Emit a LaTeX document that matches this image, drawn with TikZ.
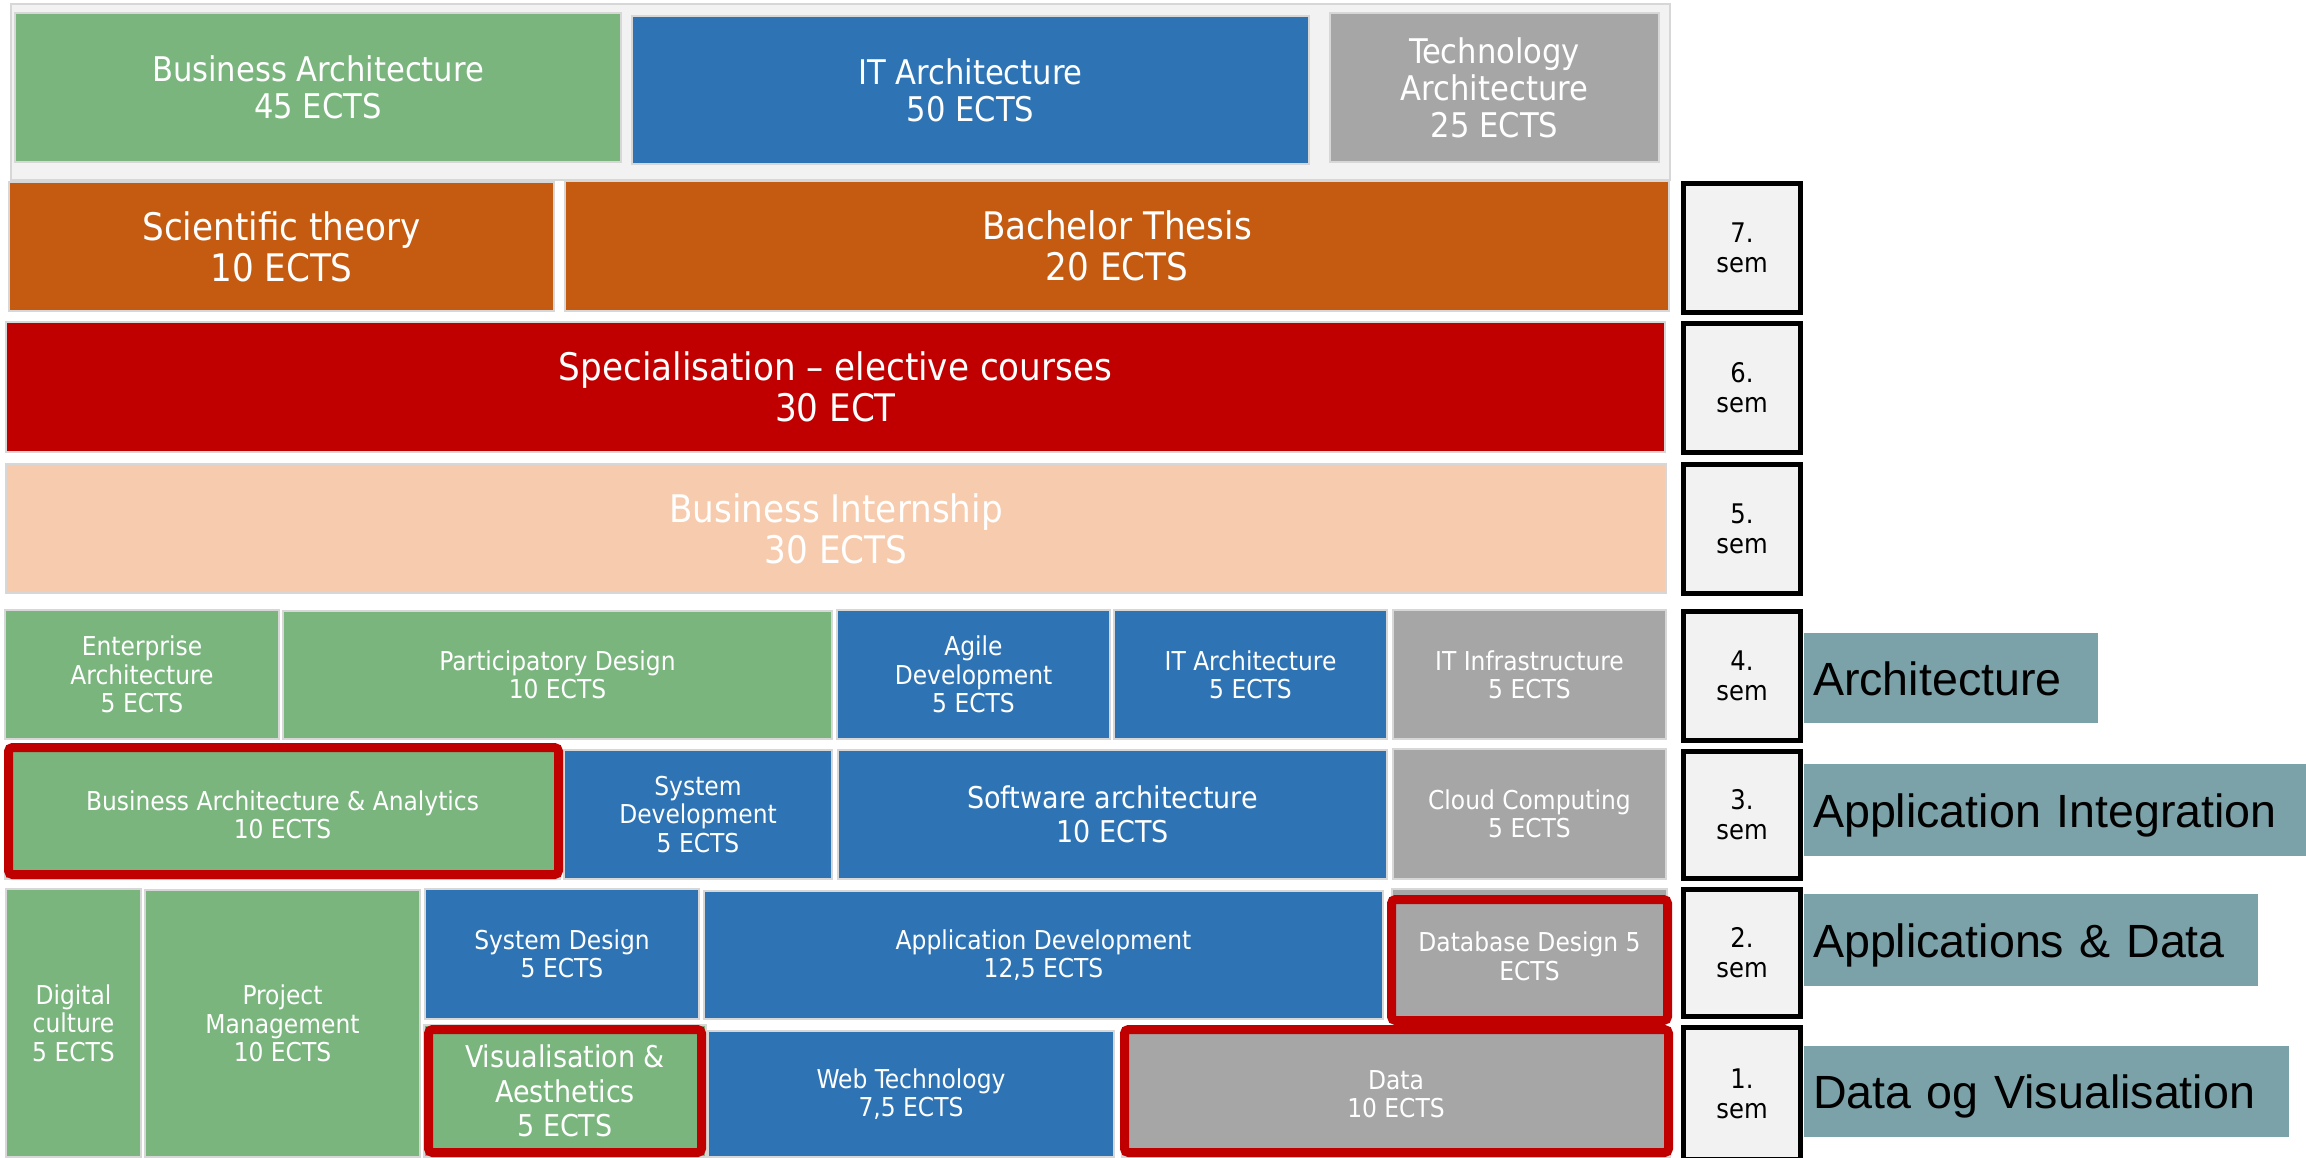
\documentclass[tikz,border=0pt]{standalone}
\usepackage{fontspec}
\setmainfont{DejaVu Sans Condensed}
\newfontfamily\arialf{Liberation Sans}
\definecolor{cgreen}{RGB}{122,181,126}
\definecolor{cblue}{RGB}{46,116,181}
\definecolor{cgrey}{RGB}{166,166,166}
\definecolor{corange}{RGB}{197,90,17}
\definecolor{cred}{RGB}{192,0,0}
\definecolor{cpeach}{RGB}{247,203,173}
\definecolor{cteal}{RGB}{123,162,168}
\definecolor{csem}{RGB}{242,242,242}
\definecolor{cedge}{RGB}{215,215,215}
\newcommand{\bx}[7]{\node[#1, minimum width={(#4-#2)*0.5pt}, minimum height={(#5-#3)*0.5pt}] (#6) at (#2,#3) {#7};}
\newcommand{\lb}[6]{\node[lab, text width={(#3-#1-18)*0.5pt}, minimum height={(#4-#2)*0.5pt}] (#5) at (#1,#2) {#6};}
\begin{document}
\begin{tikzpicture}[x=0.5pt,y=-0.5pt,
  base/.style={anchor=north west, inner sep=0pt, outer sep=0pt, align=center},
  box/.style={base, fill=#1, draw=cedge, line width=0.75pt, text=white},
  panel/.style={base, fill=csem, draw=cedge, line width=0.75pt},
  redframe/.style={base, draw=cred, line width=4.5pt, rounded corners=2pt},
  sembox/.style={base, fill=csem, draw=black, line width=2.5pt, text=black, font=\fontsize{13.5}{15}\selectfont},
  lab/.style={anchor=north west, outer sep=0pt, inner ysep=0pt, inner xsep=4.5pt, align=left, fill=cteal, text=black, text height=17pt, text depth=0pt, font=\arialf\fontsize{23.3}{26}\selectfont},
  ftop/.style={font=\fontsize{17}{18.5}\selectfont},
  fbig/.style={font=\fontsize{19}{20.5}\selectfont},
  fmid/.style={font=\fontsize{15}{17.3}\selectfont},
  fsmall/.style={font=\fontsize{13}{14.2}\selectfont}]
\useasboundingbox (0,0) rectangle (2306,1157);
\fill[white] (0,0) rectangle (2306,1157);
% top panel
\bx{panel}{11}{4}{1670}{180}{panel}{}
\bx{box=cgreen,ftop}{15}{13}{621}{162}{ba}{Business Architecture\\45 ECTS}
\bx{box=cblue,ftop}{632}{16}{1309}{164}{ita}{IT Architecture\\50 ECTS}
\bx{box=cgrey,ftop}{1330}{13}{1659}{162}{ta}{Technology\\Architecture\\25 ECTS}
% semester 7
\bx{box=corange,fbig}{9}{182}{554}{311}{st}{Scientific theory\\10 ECTS}
\bx{box=corange,fbig}{565}{181}{1669}{311}{bt}{Bachelor Thesis\\20 ECTS}
% semester 6
\bx{box=cred,fbig}{6}{322}{1665}{452}{sp}{Specialisation – elective courses\\30 ECT}
% semester 5
\bx{box=cpeach,fbig}{6}{464}{1666}{593}{bi}{Business Internship\\30 ECTS}
% semester 4
\bx{box=cgreen,fsmall}{5}{610}{279}{739}{ea}{Enterprise\\Architecture\\5 ECTS}
\bx{box=cgreen,fsmall}{283}{611}{832}{739}{pd}{Participatory Design\\10 ECTS}
\bx{box=cblue,fsmall}{837}{610}{1110}{739}{agd}{Agile\\Development\\5 ECTS}
\bx{box=cblue,fsmall}{1114}{610}{1387}{739}{ita4}{IT Architecture\\5 ECTS}
\bx{box=cgrey,fsmall}{1393}{610}{1666}{739}{iti}{IT Infrastructure\\5 ECTS}
% semester 3
\bx{box=cgreen,fsmall}{5}{750}{560}{879}{baa}{Business Architecture \& Analytics\\10 ECTS}
\bx{box=cblue,fsmall}{564}{750}{832}{879}{sdev}{System\\Development\\5 ECTS}
\bx{box=cblue,fmid}{838}{750}{1387}{879}{sa}{Software architecture\\10 ECTS}
\bx{box=cgrey,fsmall}{1393}{749}{1666}{879}{cc}{Cloud Computing\\5 ECTS}
% semesters 2 and 1
\bx{box=cgreen,fsmall}{6}{889}{141}{1157}{dc}{Digital\\culture\\5 ECTS}
\bx{box=cgreen,fsmall}{145}{890}{420}{1157}{pm}{Project\\Management\\10 ECTS}
\bx{box=cblue,fsmall}{425}{889}{699}{1019}{sdes}{System Design\\5 ECTS}
\bx{box=cblue,fsmall}{704}{891}{1383}{1019}{apd}{Application Development\\12,5 ECTS}
\bx{box=cgrey,fsmall}{1392}{889}{1667}{1019}{dd}{\rule{0pt}{12pt}Database Design 5\\ECTS}
\bx{box=cgreen,fmid}{424}{1025}{706}{1157}{va}{Visualisation \&\\Aesthetics\\5 ECTS}
\bx{box=cblue,fsmall}{708}{1031}{1114}{1157}{wt}{Web Technology\\7,5 ECTS}
\bx{box=cgrey,fsmall}{1122}{1031}{1670}{1157}{da}{Data\\10 ECTS}
% red highlight frames
\bx{redframe}{8.5}{747.5}{558.5}{874.5}{fbaa}{}
\bx{redframe}{1391.5}{899.5}{1667.5}{1020.5}{fdd}{}
\bx{redframe}{428.5}{1029.5}{701.5}{1152.5}{fva}{}
\bx{redframe}{1124.5}{1029.5}{1668.5}{1152.5}{fda}{}
% semester boxes
\bx{sembox}{1683.5}{183.5}{1800.5}{312.5}{s7}{7.\\sem}
\bx{sembox}{1683.5}{323.5}{1800.5}{452.5}{s6}{6.\\sem}
\bx{sembox}{1683.5}{464.5}{1800.5}{593.5}{s5}{5.\\sem}
\bx{sembox}{1683.5}{611.5}{1800.5}{740.5}{s4}{4.\\sem}
\bx{sembox}{1683.5}{751.5}{1800.5}{878.5}{s3}{3.\\sem}
\bx{sembox}{1683.5}{889.5}{1800.5}{1016.5}{s2}{2.\\sem}
\bx{sembox}{1683.5}{1027.5}{1800.5}{1159.5}{s1}{1.\\sem}
% track labels
\lb{1804}{633}{2098}{723}{l4}{Architecture}
\lb{1804}{764}{2306}{856}{l3}{Application Integration}
\lb{1804}{894}{2258}{986}{l2}{Applications \& Data}
\lb{1804}{1046}{2289}{1137}{l1}{Data og Visualisation}
\end{tikzpicture}
\end{document}
